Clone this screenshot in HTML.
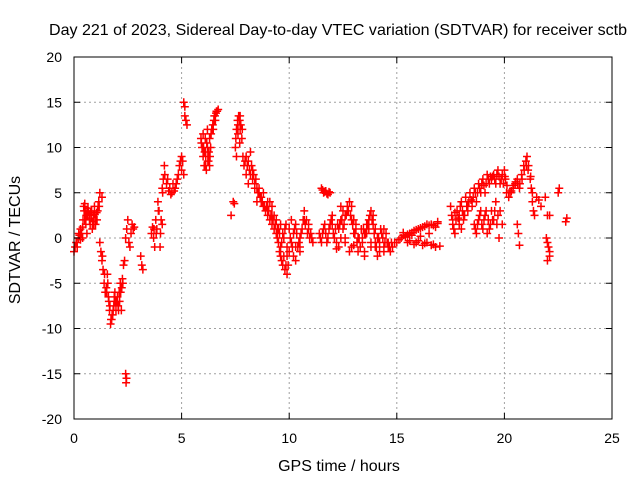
<!DOCTYPE html>
<html><head><meta charset="utf-8"><style>
body{margin:0;background:#fff;}
svg{display:block;font-family:"Liberation Sans",sans-serif;}
</style></head><body>
<svg id="chart" width="640" height="480" viewBox="0 0 640 480">
<rect width="640" height="480" fill="#fff"/>
<g id="grid"></g><g id="marks"></g><g id="axes"></g>
</svg>
<script>
const xTicks=[0,5,10,15,20,25];
const yTicks=[-20,-15,-10,-5,0,5,10,15,20];
const times=[0,0.05,0.1,0.15,0.2,0.25,0.3,0.35,0.4,0.45,0.5,0.5,0.55,0.6,0.65,0.7,0.75,0.8,0.85,0.9,0.95,1.0,1.05,1.1,1.15,1.2,1.3,0.3,0.4,0.6,
1.2,1.25,1.3,1.35,1.4,1.45,1.5,1.55,1.6,1.65,1.7,1.75,1.8,1.85,1.9,1.95,2.0,2.05,2.1,2.15,2.2,2.25,2.3,2.35,2.4,2.42,2.44,
2.4,2.45,2.5,2.55,2.6,2.65,2.7,2.75,2.8,3.1,3.15,3.2,
3.6,3.65,3.7,3.75,3.8,3.85,3.9,3.95,4.0,4.05,4.1,4.15,4.2,4.1,4.3,4.4,4.5,4.6,4.7,4.8,4.9,5.0,5.05,5.1,5.0,
5.1,5.15,5.2,5.25,5.15,
5.9,5.95,6.0,6.05,6.1,6.15,6.2,6.25,6.3,6.35,6.4,6.45,6.5,6.55,6.6,6.65,6.7,6.0,6.1,6.2,6.3,
7.3,7.4,7.45,7.5,7.55,7.6,7.65,7.7,7.75,7.8,7.85,7.7,7.55,
7.9,8.0,8.1,8.2,8.3,8.4,8.5,8.6,8.7,8.8,8.9,9.0,9.1,9.2,9.3,9.4,9.5,9.55,9.6,9.7,9.8,9.9,9.95,8.0,8.2,8.5,8.8,9.0,9.2,9.1,9.3,9.6,9.7,9.8,9.9,10.0,10.1,10.2,10.3,10.4,10.5,10.5,10.6,10.7,10.8,10.9,11.0,11.1,10.0,10.2,10.3,
11.5,11.6,11.7,11.8,11.9,11.4,11.5,11.6,11.7,11.8,11.9,12.0,
12.1,12.2,12.3,12.4,12.5,12.6,12.7,12.8,12.9,13.0,13.1,13.2,13.3,13.4,13.5,13.6,13.7,13.8,13.9,14.0,14.1,14.2,14.3,14.4,14.5,14.6,14.7,14.8,14.9,12.3,12.6,12.9,13.2,13.5,13.8,14.1,14.4,12.5,13.0,13.5,14.0,12.4,12.0,
15.0,15.2,15.4,15.6,15.8,16.0,16.2,16.4,16.6,16.8,15.5,15.8,16.0,16.2,16.4,16.6,16.8,17.0,15.3,16.1,16.5,16.9,
17.5,17.6,17.7,17.8,17.9,18.0,18.1,18.2,18.3,18.4,18.5,18.6,18.7,18.8,18.9,19.0,19.1,19.2,19.3,19.4,19.5,19.6,19.7,19.8,19.9,18.6,18.7,18.8,18.9,19.0,19.1,19.2,19.3,19.4,19.5,19.6,19.7,18.0,17.6,19.8,19.9,19.75,
20.0,20.05,20.1,20.2,20.3,20.4,20.5,20.6,20.7,20.8,20.9,21.0,21.05,21.1,21.2,21.25,21.3,21.35,21.4,21.5,21.6,20.6,20.65,20.7,21.7,21.9,22.0,22.0,22.05,22.1,22.1,22.1,22.5,22.55,22.85,22.9,22.0,21.95];
const values=[-1.5,-1,-0.5,-1,0,0.3,-0.2,0.5,1.2,3.5,3.8,2,1.5,3.0,3.3,2.5,1.5,2.2,1.0,2.5,3.5,1.5,2.8,3.0,4.0,5.0,4.5,1.0,0.0,0.5,
-0.5,-1.5,-2.5,-3.5,-5,-6,-5.5,-4,-6.5,-8,-9.5,-9,-8.5,-7.5,-6,-8,-7,-7.5,-6,-5,-8,-4.5,-3,-2.5,-15,-16,-15.5,
0,1,2,-0.5,-1,0.5,1.5,1,1.2,-2,-3,-3.5,
0.5,1.2,0,-1,2,1,4,3,-1,2,5.5,6.5,8,1.5,6,5.2,4.8,6,5.5,6.5,8,9,8.5,7,7.5,
15,14.5,13,12.5,13.5,
11,10,9,8,9.5,7.5,10,8.5,11,10,12,12.5,13,13.5,13.8,14,14.2,11.5,11,12,8,
2.5,4,3.8,10,12,13,13.5,13,12.5,11,9,10.5,9,
8,9,8.5,7,7.5,6,5.5,5,4.5,3.5,3,2.5,2,1.5,1,0.5,-0.5,-1.5,-2,-3,-3.5,-4,-3,7,9.5,4,5,4,3.5,4,2.5,1.5,0.5,1,-1,1,2,0.5,1.5,-1,0,-1.5,1,3,2,1,0.5,-0.5,-1.5,-2,-2.5,
5.5,5,5.2,4.8,5,0.5,-0.5,1,0.5,0,1.5,2.5,
0,-0.5,1,2,3,2.5,3.5,4,3.5,2,1,0,-1,-0.5,0.5,1.5,2,3,2.5,1,0,-0.5,0.5,1,0.5,-1,-1.5,-1,-0.5,-1,0,-1,-1.5,-1.5,-1,-2,-1.5,1,0.5,-2,-0.5,3.5,1.5,
-0.5,0,0.2,0.5,0.8,1,1.2,1.5,1.5,1.2,-0.5,-0.7,-0.3,-0.8,-0.5,-0.8,-1,-0.9,0.6,0.2,0.5,1.8,
3.5,2,0.5,3,1.5,4,2,4.5,3,5,3.5,5.5,4,6,5,6.5,5,7,6,6.5,7,6,7.5,6,7,1.5,0.5,2,3,1,2.5,0.5,1,3,2,4,2.5,1,1.5,3,1.5,0,
7.5,6.5,5,4.5,5,5.5,6,6.5,5.5,7,8,8.5,9,7.5,6.5,5.5,4,3,2.5,4.5,4.2,1.5,0.5,-0.8,3.5,4.5,2.5,-0.5,-1,-2,-1.5,2.5,5,5.5,1.8,2.2,-2.5,0];
const times2=[0.12,0.22,0.32,0.42,0.52,0.62,0.72,0.82,0.92,1.02,1.12,0.47,0.57,0.67,0.77,0.87,0.97,1.07,1.17,
1.32,1.42,1.52,1.62,1.72,1.82,1.92,2.02,2.12,2.22,1.57,1.67,1.77,1.87,1.97,2.07,2.17,2.27,
3.72,3.82,3.92,4.02,4.12,4.22,4.35,4.45,4.55,4.65,4.75,4.85,4.95,
5.92,6.02,6.12,6.22,6.32,6.42,6.52,6.62,6.07,6.17,6.27,6.37,6.47,6.57,6.12,6.22,
7.52,7.62,7.72,7.82,7.62,7.72,
7.95,8.05,8.15,8.25,8.35,8.45,8.55,8.65,8.75,8.85,8.95,9.05,9.15,9.25,9.35,9.45,8.1,8.3,8.4,8.6,8.7,8.9,9.0,9.2,9.4,9.5,9.6,9.65,9.75,9.85,9.9,9.45,9.55,9.65,9.75,9.85,
10.05,10.15,10.25,10.35,10.45,10.55,10.65,10.75,10.85,10.95,10.1,10.3,10.5,10.7,10.9,11.05,
11.55,11.65,11.75,11.85,11.45,11.55,11.65,11.75,11.85,11.95,
12.05,12.15,12.25,12.35,12.45,12.55,12.65,12.75,12.85,12.95,13.05,13.15,13.25,13.35,13.45,13.55,13.65,13.75,13.85,13.95,14.05,14.15,14.25,14.35,14.45,14.55,14.65,14.75,12.2,12.4,12.6,12.8,13.0,13.2,13.4,13.6,13.8,14.0,14.2,14.4,14.6,12.7,12.9,13.1,13.3,13.7,13.9,
15.1,15.3,15.5,15.7,15.9,16.1,16.3,16.5,16.7,16.9,15.6,15.9,16.3,16.7,15.4,15.7,
17.55,17.65,17.75,17.85,17.95,18.05,18.15,18.25,18.35,18.45,18.55,18.65,18.75,18.85,18.95,19.05,19.15,19.25,19.35,19.45,19.55,19.65,19.75,19.85,19.95,18.65,18.75,18.85,18.95,19.05,19.15,19.25,19.35,19.45,19.55,19.65,17.7,17.9,18.1,18.3,18.5,
20.02,20.12,20.22,20.32,20.42,20.52,20.62,20.72,20.82,20.92,21.02,21.12,21.22,21.3];
const values2=[-0.5,0.5,0.5,2,3,2.5,2,3,1.5,2,3.5,3,2.5,3,2.8,1.8,2.6,2,3.5,
-2,-4,-6,-7,-9,-8,-7,-6.5,-7,-5.5,-5,-7.5,-8.5,-6.5,-7,-8,-6,-5,
1,0.5,3,0.5,5,7,6.5,5.5,5,5.2,6,7,8.5,
10.5,10,9,8.5,9,12,13.5,14,9.5,10.5,9.5,11.5,12,13,8,9,
11,12.5,13.5,12,11.5,12,
8.5,8,7.5,8,7,6.5,5,4.5,4,3.5,3.5,3,2.5,2,1.5,0,6,6.5,5.5,5.5,4,3,3.5,2.5,2,1,-1,-2.5,-2,-3,-2,1,0.5,-0.5,0,1.5,
0,-1,1,0.5,-0.5,0.5,2,1.5,0.5,0,-0.5,-1,-1,2,1.5,0,
5.3,5.1,4.9,5.1,0,0.5,1.5,-0.5,1,2,
0.5,1,1.5,1.5,2,1.5,2.5,3,2.5,1.5,0.5,-0.5,0,1,1,0.5,1.5,2.5,2,0.5,-1,0,1,0,-0.5,-0.5,-1,-0.5,-1.2,0,-0.5,-1.5,-0.8,0,0,0.5,-0.5,-1,-1.5,-1,-0.5,3,2,1.5,-1,1,1.5,
-0.2,0.3,0.4,0.3,0.9,1.1,1.3,1.4,1.4,1.6,-0.3,-0.5,-0.6,-0.7,0.1,0.6,
2.5,1,2,2.2,3.5,3,2.5,3.5,4,4.2,4.5,5,5,5.5,6,5.8,6,6.5,6.8,6.8,6.5,7,6.8,6.5,6,1,1.5,2.5,1.5,2,3,2,1.5,2,3,1.5,2.8,2.5,2.5,3.5,4,
6.8,5.8,5,5.2,5.8,6.2,6,6,6.5,7.5,8,8,6.8,5];
const allT=times.concat(times2), allV=values.concat(values2);
const X0=74,X1=612,Y0=419,Y1=57;
const xs=t=>X0+(t-0)/(25-0)*(X1-X0);
const ys=v=>Y0-(v+20)/40*(Y0-Y1);
const NS="http://www.w3.org/2000/svg";
function mk(tag,attrs,parent){const e=document.createElementNS(NS,tag);for(const k in attrs)e.setAttribute(k,attrs[k]);parent.appendChild(e);return e;}
const grid=document.getElementById('grid'),marks=document.getElementById('marks'),axes=document.getElementById('axes');
xTicks.forEach(t=>{const x=xs(t);
 if(t>0&&t<25){const g=mk('line',{x1:x,x2:x,y1:Y1,y2:Y0,stroke:'#a0a0a0','stroke-dasharray':'2,3'},grid);
 
 }
 mk('line',{x1:x,x2:x,y1:Y0,y2:Y0-6,stroke:'#000'},axes);
 mk('line',{x1:x,x2:x,y1:Y1,y2:Y1+6,stroke:'#000'},axes);
 const l=mk('text',{x:x,y:443,'text-anchor':'middle','font-size':14,fill:'#000'},axes);l.textContent=t;
 
 
});
yTicks.forEach(v=>{const y=ys(v);
 if(v>-20&&v<20){const g=mk('line',{x1:X0,x2:X1,y1:y,y2:y,stroke:'#a0a0a0','stroke-dasharray':'2,3'},grid);
 
 }
 mk('line',{x1:X0,x2:X0+6,y1:y,y2:y,stroke:'#000'},axes);
 mk('line',{x1:X1,x2:X1-6,y1:y,y2:y,stroke:'#000'},axes);
 const l=mk('text',{x:62,y:y+5,'text-anchor':'end','font-size':14,fill:'#000'},axes);l.textContent=v;
 
 
});
const frame=mk('rect',{x:X0,y:Y1,width:X1-X0,height:Y0-Y1,fill:'none',stroke:'#000'},axes);


let d='';
for(let i=0;i<allT.length;i++){const x=xs(allT[i]),y=ys(allV[i]);d+=`M${x-4},${y}h8M${x},${y-4}v8`;}
const p=mk('path',{d:d,stroke:'#ff0000','stroke-width':1.5,fill:'none'},marks);


const t1=mk('text',{x:338,y:35,'text-anchor':'middle','font-size':16,textLength:578,lengthAdjust:'spacingAndGlyphs',fill:'#000'},axes);t1.textContent='Day 221 of 2023, Sidereal Day-to-day VTEC variation (SDTVAR) for receiver sctb';


const t2=mk('text',{x:339,y:471,'text-anchor':'middle','font-size':16,fill:'#000'},axes);t2.textContent='GPS time / hours';


const t3=mk('text',{x:0,y:0,'text-anchor':'middle','font-size':16,fill:'#000',transform:'translate(20,240) rotate(-90)'},axes);t3.textContent='SDTVAR / TECUs';


</script>
</body></html>
